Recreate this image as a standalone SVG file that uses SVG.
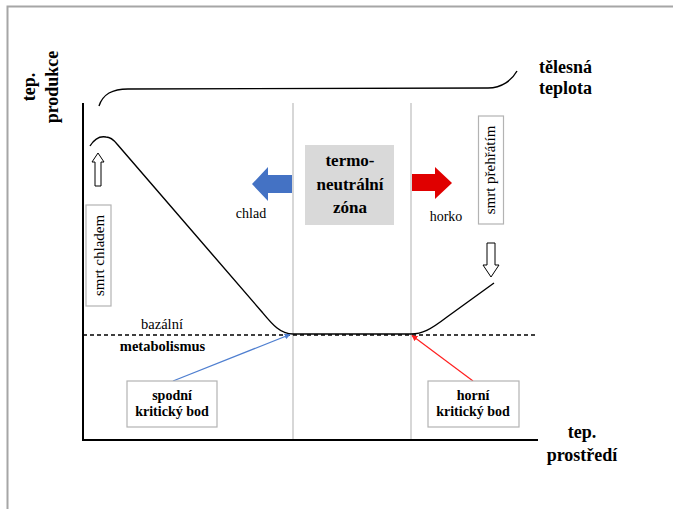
<svg xmlns="http://www.w3.org/2000/svg" width="673" height="509" viewBox="0 0 673 509">
<style>
text{font-family:"Liberation Serif","Times New Roman",serif;fill:#000}
.b{font-weight:bold}
.lbl{font-size:14px}
.big{font-size:18px;font-weight:bold}
.box{fill:#fff;stroke:#b3b3b3;stroke-width:1.2}
.grid{stroke:#bdbdbd;stroke-width:1.2;fill:none}
.axis{stroke:#000;stroke-width:2;fill:none}
.curve{stroke:#000;stroke-width:1.4;fill:none}
.hollow{fill:#fff;stroke:#000;stroke-width:1}
</style>
<defs>
<marker id="mb" viewBox="0 0 10 10" refX="9" refY="5" markerWidth="6" markerHeight="6" orient="auto" markerUnits="userSpaceOnUse"><path d="M0,0 L10,5 L0,10 Z" fill="#4f7fd0"/></marker>
<marker id="mr" viewBox="0 0 10 10" refX="9" refY="5" markerWidth="6" markerHeight="6" orient="auto" markerUnits="userSpaceOnUse"><path d="M0,0 L10,5 L0,10 Z" fill="#ff2020"/></marker>
</defs>
<rect width="673" height="509" fill="#fff"/>
<!-- frame -->
<path d="M7.5 509 V6.5 H673" fill="none" stroke="#a6a6a6" stroke-width="2"/>

<!-- grid & axes -->
<g id="axes">
<line class="grid" x1="293" y1="103" x2="293" y2="440"/>
<line class="grid" x1="411" y1="103" x2="411" y2="440"/>
<line x1="83" y1="335" x2="537" y2="335" stroke="#000" stroke-width="1.3" stroke-dasharray="4 3"/>
<path class="axis" d="M83 103 V440 H538"/>
</g>

<!-- curves -->
<g id="connectors">
<path class="curve" d="M99 106 C103 94 112 89 128 89 L488 88 C502 88 512 80 517 71"/>
<path class="curve" d="M90 146 C95 138 101 136 106 137 C110 137 113 139 117 144 L262 312 C272 324 280 334 293 334 L411 334 C422 334 430 330 447 317 L494 283"/>
<line x1="173" y1="381" x2="290" y2="334.5" stroke="#4f7fd0" stroke-width="1.2" marker-end="url(#mb)"/>
<line x1="473" y1="381" x2="412" y2="335.5" stroke="#ff2020" stroke-width="1.2" marker-end="url(#mr)"/>
<polygon class="hollow" points="98,153 104,162 101,162 101,186 95,186 95,162 92,162"/>
<polygon class="hollow" points="487,243 495,243 495,265 499,265 491,277 483,265 487,265"/>
<polygon fill="#4472c4" points="252,184 268,167 268,175 292,175 292,193 268,193 268,201"/>
<polygon fill="#e00000" points="412,174 435,174 435,167 452,183 435,199 435,191 412,191"/>
</g>

<!-- axis labels -->
<g id="y-label">
<text class="big" font-size="19" text-anchor="middle" transform="translate(35,87) rotate(-90)">tep.</text>
<text class="big" font-size="19" text-anchor="middle" transform="translate(58,87) rotate(-90)">produkce</text>
</g>
<g id="x-label">
<text class="big" x="582" y="438" text-anchor="middle">tep.</text>
<text class="big" x="582" y="461" text-anchor="middle">prostředí</text>
</g>
<g id="body-temp">
<text class="big" x="539" y="73">tělesná</text>
<text class="big" x="539" y="94">teplota</text>
</g>

<!-- thermoneutral zone -->
<g id="zone">
<rect x="305" y="145" width="89" height="80" fill="#d9d9d9"/>
<text class="b" font-size="17" x="350" y="166" text-anchor="middle">termo-</text>
<text class="b" font-size="17" x="350" y="190" text-anchor="middle">neutrální</text>
<text class="b" font-size="17" x="350" y="213" text-anchor="middle">zóna</text>
</g>

<g id="chlad"><text class="lbl" x="251" y="218" text-anchor="middle">chlad</text></g>
<g id="horko"><text class="lbl" x="446" y="220.5" text-anchor="middle">horko</text></g>

<g id="smrt-chladem">
<rect class="box" x="86" y="205" width="25" height="101"/>
<text font-size="15" text-anchor="middle" transform="translate(103.5,255.5) rotate(-90)">smrt chladem</text>
</g>
<g id="smrt-prehratim">
<rect class="box" x="478.5" y="116" width="25" height="108"/>
<text font-size="15" text-anchor="middle" transform="translate(495,170) rotate(-90)">smrt přehřátím</text>
</g>

<g id="bazalni">
<text font-size="14.5" x="162" y="329" text-anchor="middle">bazální</text>
<text class="b" font-size="14.5" x="162.5" y="351" text-anchor="middle">metabolismus</text>
</g>

<g id="spodni">
<rect class="box" x="127" y="381" width="90" height="46"/>
<text class="b" font-size="14" x="172" y="400" text-anchor="middle">spodní</text>
<text class="b" font-size="14" x="172" y="415.5" text-anchor="middle">kritický bod</text>
</g>
<g id="horni">
<rect class="box" x="428" y="381" width="91" height="46"/>
<text class="b" font-size="14" x="473" y="400" text-anchor="middle">horní</text>
<text class="b" font-size="14" x="473" y="415.5" text-anchor="middle">kritický bod</text>
</g>
</svg>
